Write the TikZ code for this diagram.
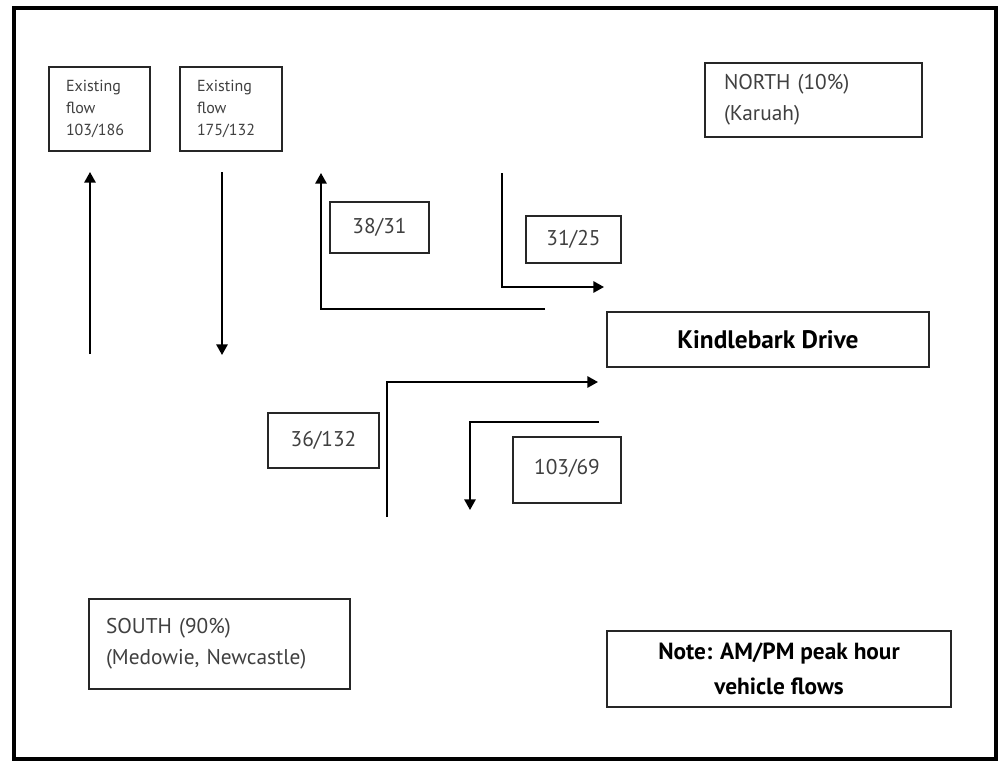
\documentclass[tikz,border=0pt]{standalone}
\usepackage{fontspec}
\setmainfont{PT Sans}
\usetikzlibrary{arrows.meta}
\begin{document}
\begin{tikzpicture}[x=0.75pt,y=-0.75pt,
  box/.style={draw=black!85, line width=1.5pt, inner sep=0pt},
  lbox/.style={box, align=left, anchor=north west, inner xsep=12.75pt},
  cbox/.style={box, align=center, anchor=center},
  flowtxt/.style={font=\fontsize{12}{16.5}\selectfont, text=black!75},
  numtxt/.style={font=\fontsize{16}{18}\selectfont, text=black!75},
  dirtxt/.style={font=\fontsize{16}{23}\selectfont, text=black!75},
  roadtxt/.style={font=\fontsize{19}{26}\selectfont\bfseries},
  notetxt/.style={font=\fontsize{17.5}{26}\selectfont\bfseries},
  arr/.style={line width=1.5pt, -{Triangle[length=8pt,width=8.5pt]}}]
\useasboundingbox (0,0) rectangle (1000,765);
\fill[white] (0,0) rectangle (1000,765);
% outer frame
\draw[line width=3.5pt] (14,8) rectangle (996,759);

% nodes
\node[lbox, flowtxt, text width=50.25pt, minimum height=63pt] (ex1) at (48,66) {Existing\\flow\\103/186};
\node[lbox, flowtxt, text width=51pt, minimum height=63pt] (ex2) at (179,66) {Existing\\flow\\175/132};
\node[lbox, dirtxt, inner xsep=14.25pt, text width=134.25pt, minimum height=55.5pt] (north) at (704,62) {NORTH (10\%)\\(Karuah)};
\node[lbox, dirtxt, text width=170.25pt, minimum height=67.5pt] (south) at (88,598) {SOUTH (90\%)\\(Medowie, Newcastle)};

\node[cbox, numtxt, minimum width=74.25pt, minimum height=38.25pt] (n3831) at (379.5,227.5) {38/31};
\node[cbox, numtxt, minimum width=71.25pt, minimum height=35.25pt] (n3125) at (573.5,239.5) {31/25};
\node[cbox, numtxt, minimum width=83.25pt, minimum height=41.25pt] (n36132) at (323.5,440.5) {36/132};
\node[cbox, numtxt, minimum width=81pt, minimum height=49.5pt] (n10369) at (567,470) {\raisebox{4pt}{103/69}};
\node[cbox, roadtxt, minimum width=241.5pt, minimum height=41.25pt] (kd) at (768,339.5) {Kindlebark Drive};
\node[cbox, notetxt, minimum width=258pt, minimum height=57pt] (note) at (779,669) {Note: AM/PM peak hour\\vehicle flows};

% connector coordinates
\coordinate (a1s) at (90,354);  \coordinate (a1e) at (90,172);
\coordinate (a2s) at (222,172); \coordinate (a2e) at (222,355);
\coordinate (b1s) at (545,309); \coordinate (b1e) at (321,173);
\coordinate (b2s) at (502,173); \coordinate (b2e) at (604,287);
\coordinate (c1s) at (387,517); \coordinate (c1e) at (598,382);
\coordinate (c2s) at (599,422); \coordinate (c2e) at (470,510);

\draw[arr] (a1s) -- (a1e);
\draw[arr] (a2s) -- (a2e);
\draw[arr] (b1s) -| (b1e);
\draw[arr] (b2s) |- (b2e);
\draw[arr] (c1s) |- (c1e);
\draw[arr] (c2s) -| (c2e);
\end{tikzpicture}
\end{document}
